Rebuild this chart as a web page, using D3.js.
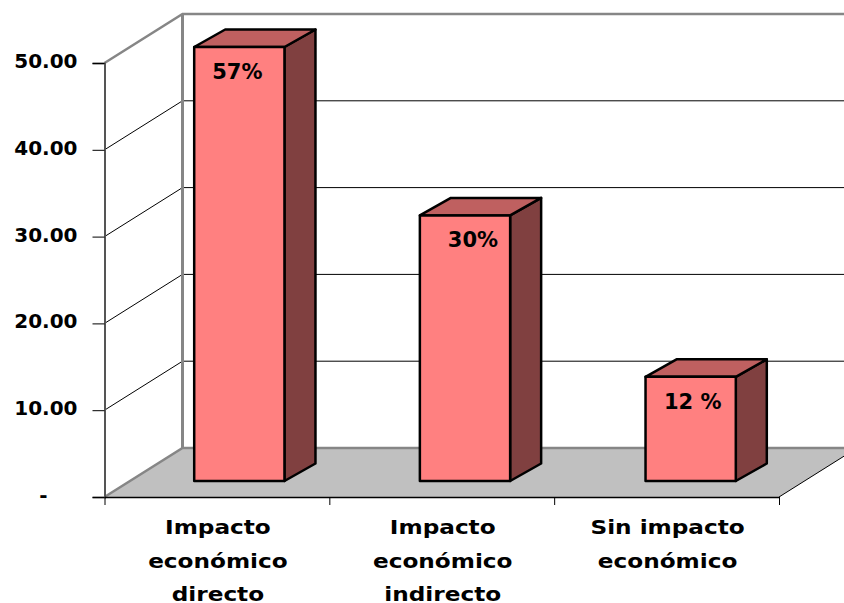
<!DOCTYPE html>
<html>
<head>
<meta charset="utf-8">
<script src="https://cdn.jsdelivr.net/npm/d3@7"></script>
<style>
  body { margin: 0; background: #fff; }
  text { font-family: "DejaVu Sans", sans-serif; font-weight: bold; fill: #000; }
</style>
</head>
<body>
<svg width="844" height="603"></svg>
<script>
// chart data
const categories = [
  ["Impacto", "económico", "directo"],
  ["Impacto", "económico", "indirecto"],
  ["Sin impacto", "económico"],
];
const values = [57, 30.6, 12];
const valueLabels = ["57%", "30%", "12 %"];
const yTicks = [0, 10, 20, 30, 40, 50];

// 3d frame
const left = 104.5, right = 779, bottom = 497, top50 = 63;
const wallDx = 78, wallDy = -49; // front plane -> back wall
const barDx = 22, barDy = -16;   // front plane -> bar front face
const sideDx = 31, sideDy = -17.5; // bar depth
const labelDx = [-2, 8, 2];

const svg = d3.select("svg");

const xScale = d3.scaleBand()
  .domain(d3.range(categories.length))
  .range([left, right + 2.5])
  .paddingInner(0.6)
  .paddingOuter(0.3);
const xEdges = d3.scaleLinear().domain([0, categories.length]).range([left, right]);
// axis stops at 50, taller bars are cut off there
const yScale = d3.scaleLinear().domain([0, 50]).range([bottom, top50]).clamp(true);

// floor
const backX = left + wallDx, backY = bottom + wallDy;
svg.append("polygon")
  .attr("points", [[left, bottom], [backX, backY], [right + wallDx, backY], [right, bottom]].join(" "))
  .attr("fill", "#c0c0c0");
svg.append("line")
  .attr("x1", right).attr("y1", bottom)
  .attr("x2", right + wallDx).attr("y2", backY)
  .attr("stroke", "#000");

// gridlines on side wall and back wall
const grid = svg.append("g");
yTicks.slice(1, -1).forEach((d) => {
  const y = yScale(d);
  grid.append("polyline")
    .attr("points", [[left, y], [backX, y + wallDy], [844, y + wallDy]].join(" "))
    .attr("fill", "none")
    .attr("stroke", "#000");
});

// grey frame
svg.append("polyline")
  .attr("points", [[left, bottom], [backX, backY], [844, backY]].join(" "))
  .attr("fill", "none").attr("stroke", "#868686").attr("stroke-width", 2.5);
svg.append("polyline")
  .attr("points", [[left, top50], [backX, top50 + wallDy], [844, top50 + wallDy]].join(" "))
  .attr("fill", "none").attr("stroke", "#868686").attr("stroke-width", 2.5);
svg.append("line")
  .attr("x1", backX).attr("y1", top50 + wallDy)
  .attr("x2", backX).attr("y2", backY)
  .attr("stroke", "#868686").attr("stroke-width", 3);

// y axis
const yAxis = svg.append("g")
  .attr("transform", "translate(" + left + ",0)")
  .call(d3.axisLeft(yScale)
    .tickValues(yTicks)
    .tickSize(12)
    .tickPadding(15)
    .tickFormat((d) => (d === 0 ? "-" : d3.format(".2f")(d))));
yAxis.select(".domain").attr("stroke", "#555").attr("stroke-width", 2);
yAxis.selectAll("text").attr("font-size", 20).attr("dy", "0.22em");
yAxis.selectAll(".tick").filter((d) => d === 0).select("text").attr("x", -57);

// x axis
const xAxis = svg.append("g")
  .attr("transform", "translate(0," + bottom + ")")
  .call(d3.axisBottom(xEdges)
    .tickValues(d3.range(categories.length + 1))
    .tickSize(8)
    .tickSizeOuter(0)
    .tickFormat(""));
xAxis.select(".domain").attr("stroke", "#000").attr("stroke-width", 1.5);

// bars
const bars = svg.selectAll(".bar")
  .data(values)
  .join("g")
  .attr("class", "bar")
  .attr("transform", `translate(${barDx},${barDy})`)
  .attr("stroke", "#000")
  .attr("stroke-width", 2.5)
  .attr("stroke-linejoin", "round");

const barW = xScale.bandwidth();
bars.append("polygon")
  .attr("fill", "#804040")
  .attr("points", (d, i) => {
    const x = xScale(i) + barW;
    return [[x, yScale(d)], [x + sideDx, yScale(d) + sideDy], [x + sideDx, bottom + sideDy], [x, bottom]].join(" ");
  });
bars.append("polygon")
  .attr("fill", "#bf6060")
  .attr("points", (d, i) => {
    const x = xScale(i);
    return [[x, yScale(d)], [x + sideDx, yScale(d) + sideDy], [x + barW + sideDx, yScale(d) + sideDy], [x + barW, yScale(d)]].join(" ");
  });
bars.append("rect")
  .attr("fill", "#ff8080")
  .attr("x", (d, i) => xScale(i))
  .attr("y", (d) => yScale(d))
  .attr("width", barW)
  .attr("height", (d) => bottom - yScale(d));

// value labels
bars.append("text")
  .attr("stroke", "none")
  .attr("font-size", 21)
  .attr("text-anchor", "middle")
  .attr("x", (d, i) => xScale(i) + barW / 2 + labelDx[i])
  .attr("y", (d) => yScale(d) + 32)
  .text((d, i) => valueLabels[i]);

// category labels, the original font is wider than DejaVu so stretch it
svg.selectAll(".cat")
  .data(categories)
  .join("text")
  .attr("class", "cat")
  .attr("text-anchor", "middle")
  .attr("font-size", 20)
  .attr("transform", (d, i) => `translate(${xEdges(i + 0.5) + 1},0) scale(1.16,1)`)
  .selectAll("tspan")
  .data((d) => d)
  .join("tspan")
  .attr("x", 0)
  .attr("y", (d, j) => 534.5 + j * 33.5)
  .text((d) => d);
</script>
</body>
</html>
